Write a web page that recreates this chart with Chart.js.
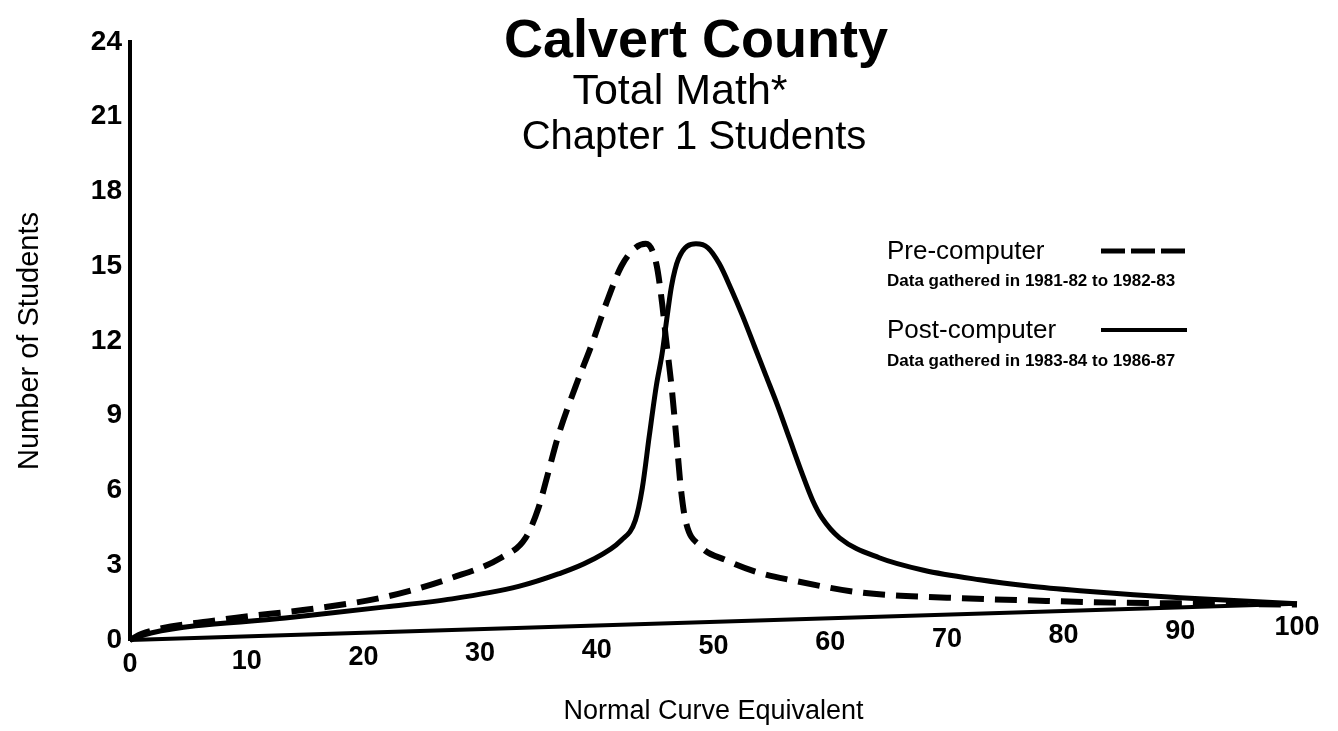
<!DOCTYPE html>
<html><head><meta charset="utf-8">
<script src="https://cdn.jsdelivr.net/npm/chart.js@4.4.1/dist/chart.umd.min.js"></script>
<style>html,body{margin:0;padding:0;background:#fff}#wrap{width:1338px;height:731px;position:relative}</style>
</head><body><div id="wrap"><canvas id="c" width="1338" height="731"></canvas></div>
<script>
const titleLines = ['Calvert County', 'Total Math*', 'Chapter 1 Students'];
const xAxisTitle = 'Normal Curve Equivalent';
const yAxisTitle = 'Number of Students';
const seriesNames = ['Pre-computer', 'Post-computer'];
const seriesNotes = ['Data gathered in 1981-82 to 1982-83', 'Data gathered in 1983-84 to 1986-87'];

const preX = [0, 1, 7.6, 16.1, 21.9, 27.6, 31.8, 33.9, 35.0, 35.6, 36.7, 38.2, 39.6, 40.8, 42.1, 43.2, 44.2, 45.1, 45.6, 45.9, 46.4, 46.8, 47.2, 47.6, 48.8, 51.1, 53.9, 56.7, 62.7, 70, 78.5, 84.2, 90, 100];
const preY = [0, 0.25, 0.8, 1.28, 1.73, 2.5, 3.3, 4.1, 5.3, 6.3, 8.2, 10.2, 11.9, 13.5, 15.0, 15.7, 15.9, 15.1, 13.5, 12.2, 10.2, 8.2, 6.1, 4.8, 3.8, 3.2, 2.7, 2.4, 1.9, 1.7, 1.57, 1.5, 1.47, 1.42];

const postX = [0, 1.8, 13.3, 21.9, 27.6, 33.3, 36.7, 39.3, 42.1, 43.3, 43.9, 44.5, 45.1, 45.6, 46.0, 46.4, 47.0, 48.5, 49.5, 50.5, 51.5, 52.5, 53.5, 54.5, 55.5, 56.5, 57.5, 58.5, 59.3, 60.8, 64.2, 68.0, 72.8, 77.0, 81.4, 86.0, 90.0, 95.0, 100];
const postY = [0, 0.28, 0.88, 1.33, 1.65, 2.15, 2.65, 3.15, 4.0, 4.8, 6.1, 8.2, 10.2, 11.5, 12.9, 14.2, 15.3, 15.9, 15.75, 15.1, 14.1, 13.0, 11.8, 10.6, 9.4, 8.1, 6.8, 5.6, 4.9, 4.1, 3.3, 2.8, 2.42, 2.17, 1.98, 1.82, 1.7, 1.58, 1.45];

const baseX = [0, 100];
const baseY = [0, 1.45];

const xTickValues = [0, 10, 20, 30, 40, 50, 60, 70, 80, 90, 100];
const yTickValues = [0, 3, 6, 9, 12, 15, 18, 21, 24];

const FAMILY = '"Liberation Sans", Arial, Helvetica, sans-serif';
const pts = (xs, ys) => xs.map((x, i) => ({x: x, y: ys[i]}));

const overlayPlugin = {
  id: 'overlay',
  afterDraw(chart) {
    const ctx = chart.ctx;
    ctx.save();
    ctx.fillStyle = '#000';
    ctx.textAlign = 'center';
    ctx.textBaseline = 'alphabetic';
    ctx.font = 'bold 54px ' + FAMILY;
    ctx.fillText(titleLines[0], 696, 57);
    ctx.font = '43px ' + FAMILY;
    ctx.fillText(titleLines[1], 680, 104);
    ctx.font = '40px ' + FAMILY;
    ctx.fillText(titleLines[2], 694, 149);

    const rows = [{ty: 252, ny: 281}, {ty: 331, ny: 361}];
    chart.data.datasets.slice(0, 2).forEach((ds, i) => {
      ctx.textAlign = 'left';
      ctx.textBaseline = 'middle';
      ctx.font = '26px ' + FAMILY;
      ctx.fillText(seriesNames[i], 887, rows[i].ty);
      ctx.font = 'bold 17px ' + FAMILY;
      ctx.fillText(seriesNotes[i], 887, rows[i].ny);
      ctx.beginPath();
      ctx.setLineDash(i === 0 ? [24, 6] : []);
      ctx.lineWidth = i === 0 ? 5 : 4;
      ctx.strokeStyle = '#000';
      ctx.moveTo(1101, rows[i].ty - 1);
      ctx.lineTo(1187, rows[i].ty - 1);
      ctx.stroke();
    });
    ctx.restore();
  }
};

new Chart(document.getElementById('c'), {
  type: 'line',
  data: {
    datasets: [
      {label: seriesNames[0], data: pts(preX, preY), borderColor: '#000', borderWidth: 6, borderDash: [22, 11], pointRadius: 0, cubicInterpolationMode: 'monotone', fill: false},
      {label: seriesNames[1], data: pts(postX, postY), borderColor: '#000', borderWidth: 5, pointRadius: 0, cubicInterpolationMode: 'monotone', fill: false},
      {label: 'axis', data: pts(baseX, baseY), borderColor: '#000', borderWidth: 4, pointRadius: 0, tension: 0, fill: false}
    ]
  },
  options: {
    responsive: false,
    animation: false,
    devicePixelRatio: 1,
    clip: false,
    layout: {padding: {left: 5, right: 41, top: 42, bottom: 0}},
    plugins: {legend: {display: false}, tooltip: {enabled: false}, title: {display: false}},
    scales: {
      x: {
        type: 'linear', min: 0, max: 100,
        afterFit: s => { s.height = 91; },
        afterBuildTicks: s => { s.ticks = xTickValues.map(v => ({value: v})); },
        grid: {display: false, drawTicks: false},
        border: {display: false},
        ticks: {
          color: '#000', padding: -120, mirror: true, maxRotation: 0, autoSkip: false,
          font: c => ({family: FAMILY, weight: 'bold', size: 27,
            lineHeight: (190 + 0.74 * (c.tick ? c.tick.value : 0)) + 'px'})
        },
        title: {display: true, text: xAxisTitle, color: '#000', font: {family: FAMILY, size: 27}, padding: {top: 0, bottom: 3}}
      },
      y: {
        type: 'linear', min: 0, max: 24,
        afterFit: s => { s.width = 125; },
        afterBuildTicks: s => { s.ticks = yTickValues.map(v => ({value: v})); },
        grid: {display: false, drawTicks: false},
        border: {display: true, color: '#000', width: 4},
        ticks: {color: '#000', padding: 8, font: {family: FAMILY, weight: 'bold', size: 28}},
        title: {display: true, text: yAxisTitle, color: '#000', font: {family: FAMILY, size: 29}, padding: {top: 8, bottom: 0}}
      }
    }
  },
  plugins: [overlayPlugin]
});
</script></body></html>
